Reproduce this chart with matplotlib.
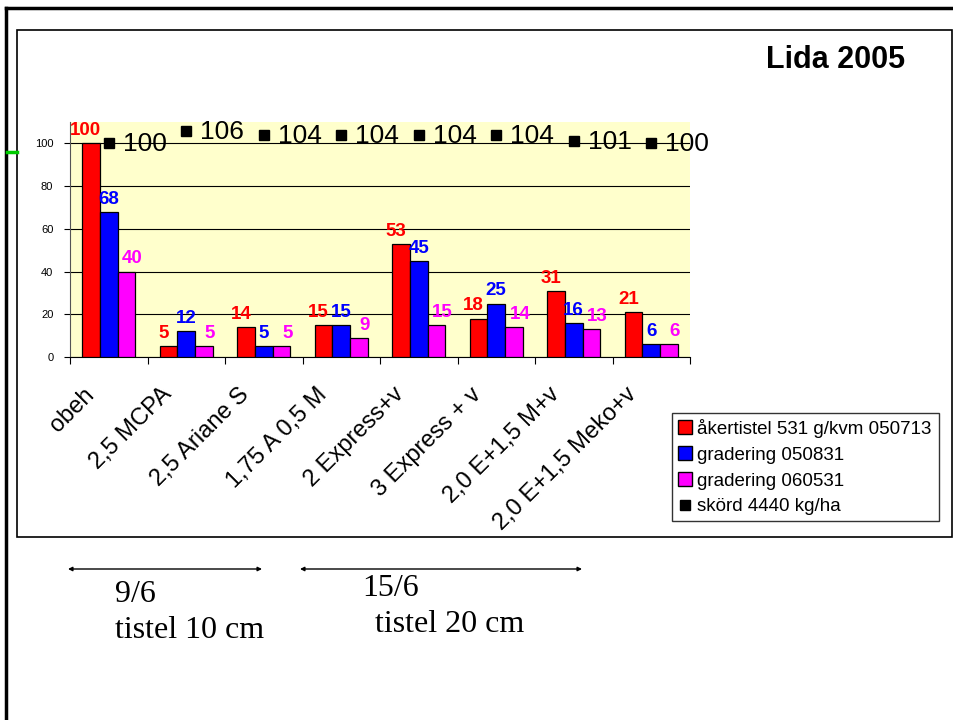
import numpy as np
import matplotlib
matplotlib.use("Agg")
import matplotlib.pyplot as plt
from matplotlib.lines import Line2D
from matplotlib.patches import Rectangle

plt.rcParams['font.family'] = ['Liberation Sans', 'DejaVu Sans']

# Data
treatments = ['obeh', '2,5 MCPA', '2,5 Ariane S', '1,75 A 0,5 M', '2 Express+v',
              '3 Express + v', '2,0 E+1,5 M+v', '2,0 E+1,5 Meko+v']
akertistel = [100, 5, 14, 15, 53, 18, 31, 21]
grad_2005 = [68, 12, 5, 15, 45, 25, 16, 6]
grad_2006 = [40, 5, 5, 9, 15, 14, 13, 6]
skord = [100, 106, 104, 104, 104, 104, 101, 100]

series_names = ['åkertistel 531 g/kvm 050713', 'gradering 050831',
                'gradering 060531', 'skörd 4440 kg/ha']
colors = ['#FF0000', '#0000FF', '#FF00FF']

W, H = 954, 720
fig = plt.figure(figsize=(W / 100, H / 100), dpi=100)


def fx(px):
    return px / W


def fy(py):
    return 1 - py / H


# slide frame: thick top and left lines, inner chart box
fig.add_artist(Line2D([fx(6), fx(6)], [0, fy(8)], color='black', lw=2.5))
fig.add_artist(Line2D([fx(6), 1], [fy(8), fy(8)], color='black', lw=2.5))
fig.add_artist(Rectangle((fx(17), fy(537)), fx(952) - fx(17), fy(30) - fy(537),
                         fill=False, ec='black', lw=1.2, transform=fig.transFigure))
fig.add_artist(Line2D([fx(7), fx(17)], [fy(152), fy(152)], color='#00CC00', lw=2.5))

ax = fig.add_axes([fx(70), fy(357), fx(690) - fx(70), fy(122) - fy(357)])
ax.set_facecolor('#FFFFCC')

x = np.arange(len(treatments))
w = 0.226
data = [akertistel, grad_2005, grad_2006]
label_shift = [-0.07, 0.0, 0.08]  # keep neighbouring value labels apart
for i, (vals, c) in enumerate(zip(data, colors)):
    pos = x + (i - 1) * w
    ax.bar(pos, vals, width=w, color=c, edgecolor='black', linewidth=0.9, zorder=3)
    for p, v in zip(pos, vals):
        ax.annotate(str(v), (p + label_shift[i], v), xytext=(0, 3),
                    textcoords='offset points', color=c, ha='center',
                    va='bottom', fontsize=13.5, fontweight='bold', zorder=5,
                    annotation_clip=False)

ax.plot(x, skord, 's', color='black', markersize=6.5, zorder=6, clip_on=False)
for xi, v in zip(x, skord):
    ax.text(xi + 0.18, v - 0.5, str(v), ha='left', va='center', fontsize=19,
            zorder=6, clip_on=False)

ax.set_xlim(-0.5, len(treatments) - 0.5)
ax.set_ylim(0, 110)
ax.set_yticks(range(0, 101, 20))
ax.tick_params(axis='y', labelsize=8, length=4, direction='out', pad=8)
ax.yaxis.grid(True, color='black', lw=0.8, zorder=0)
ax.set_axisbelow(True)

ax.set_xticks(np.arange(-0.5, len(treatments), 1))
ax.set_xticklabels([])
ax.tick_params(axis='x', length=5, direction='out')
ax.set_xticks(x - 0.33, minor=True)
ax.set_xticklabels(treatments, minor=True, rotation=45, ha='right',
                   rotation_mode='anchor', fontsize=17)
ax.tick_params(axis='x', which='minor', length=0, pad=19)

for s in ['top', 'right']:
    ax.spines[s].set_visible(False)
ax.spines['left'].set_color('#555555')
ax.spines['bottom'].set_color('black')

# legend
handles = [Line2D([], [], marker='s', ls='', markersize=10, markerfacecolor=c,
                  markeredgecolor='black') for c in colors]
handles.append(Line2D([], [], marker='s', ls='', markersize=6.5, color='black'))
fig.legend(handles, series_names, loc='upper left',
           bbox_to_anchor=(fx(672), fy(521), fx(939) - fx(672), fy(413) - fy(521)),
           mode='expand', fontsize=13.5, frameon=True, fancybox=False,
           edgecolor='black', handlelength=0.7, handletextpad=0.3,
           borderpad=0.32, labelspacing=0.46, borderaxespad=0)

fig.text(fx(905), fy(60), 'Lida 2005', ha='right', va='center', fontsize=22,
         fontweight='bold')

# spray date arrows and notes
arrow = dict(arrowstyle='<|-|>', color='black', lw=1, mutation_scale=6,
             shrinkA=0, shrinkB=0)
fig.add_artist(plt.Annotation('', xy=(fx(68), fy(569)), xytext=(fx(262), fy(569)),
                              xycoords='figure fraction', arrowprops=arrow))
fig.add_artist(plt.Annotation('', xy=(fx(300), fy(569)), xytext=(fx(582), fy(569)),
                              xycoords='figure fraction', arrowprops=arrow))
serif = ['Liberation Serif', 'DejaVu Serif']
fig.text(fx(115), fy(595), '9/6', fontsize=23, family=serif, va='center')
fig.text(fx(115), fy(631), 'tistel 10 cm', fontsize=23, family=serif, va='center')
fig.text(fx(362), fy(588), '15/6', fontsize=23, family=serif, va='center')
fig.text(fx(375), fy(624), 'tistel 20 cm', fontsize=23, family=serif, va='center')

fig.savefig('out.png', dpi=100)
